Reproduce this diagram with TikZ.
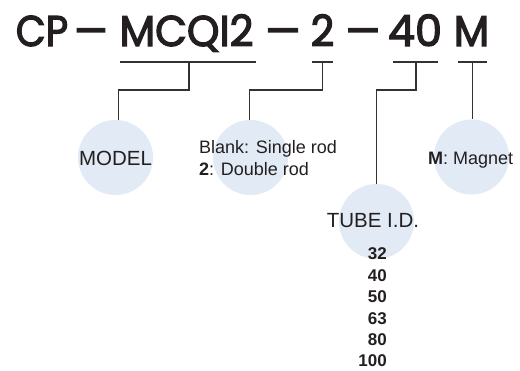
\documentclass[tikz,border=0pt]{standalone}
\usepackage{fontspec}
\setmainfont{Liberation Sans}
\newfontfamily\titlefont[FakeBold=3]{Poppins}
\definecolor{bubble}{RGB}{225,234,245}
\definecolor{ink}{RGB}{35,31,32}
\definecolor{wire}{RGB}{50,50,50}
\newcommand{\tsq}[2][0.92]{\scalebox{#1}[1]{#2}}
\tikzset{
  bub/.style={circle, fill=bubble, minimum size=75pt, inner sep=0pt},
  ttl/.style={anchor=base, inner sep=0pt, text=ink, font=\titlefont\fontsize{43}{43}\selectfont},
  lbl/.style={inner sep=0pt, text=ink, font=\fontsize{18}{22}\selectfont},
  big/.style={inner sep=0pt, text=ink, font=\fontsize{20.5}{24}\selectfont},
  num/.style={anchor=base east, inner sep=0pt, text=ink, font=\bfseries\fontsize{17}{20}\selectfont},
  wirel/.style={draw=wire, line width=1.2pt}
}
\begin{document}
\begin{tikzpicture}[x=1pt, y=-1pt]
\useasboundingbox (0,0) rectangle (520,370);
% title
\node[ttl] (tcp) at (42,46) {\tsq[0.9]{CP}};
\node[ttl] (td1) at (91,46) {\tsq[0.88]{—}};
\node[ttl] (tmod) at (186.5,46) {\tsq[0.96]{MCQI2}};
\node[ttl] (td2) at (283,46) {\tsq[0.92]{—}};
\node[ttl] (trod) at (322.5,46) {\tsq[0.95]{2}};
\node[ttl] (td3) at (363,46) {\tsq[0.9]{—}};
\node[ttl] (tbore) at (415,46) {\tsq[1.0]{40}};
\node[ttl] (tmag) at (471.5,46) {\tsq[0.95]{M}};
% bubbles
\node[bub] (c1) at (115.5,157.5) {};
\node[bub] (c2) at (250.5,157.5) {};
\node[bub] (c3) at (376.5,221.5) {};
\node[bub] (c4) at (471.5,157) {};
% bars and connectors
\coordinate (b1l) at (120,62); \coordinate (b1r) at (256,62); \coordinate (b1m) at (189,62); \coordinate (k1) at (189,90);
\coordinate (b2l) at (312,62); \coordinate (b2r) at (333,62); \coordinate (b2m) at (322.5,62); \coordinate (k2) at (322.5,90);
\coordinate (b3l) at (393,62); \coordinate (b3r) at (438,62); \coordinate (b3m) at (416,62); \coordinate (k3) at (416,90);
\coordinate (b4l) at (458,62); \coordinate (b4r) at (487,62); \coordinate (b4m) at (472.5,62);
\draw[wirel] (b1l) -- (b1r);
\draw[wirel] (b2l) -- (b2r);
\draw[wirel] (b3l) -- (b3r);
\draw[wirel] (b4l) -- (b4r);
\draw[wirel] (b1m) -- (k1) -| ([xshift=3pt]c1.north);
\draw[wirel] (b2m) -- (k2) -| ([xshift=-1pt]c2.north);
\draw[wirel] (b3m) -- (k3) -| (c3.north);
\draw[wirel] (b4m) -- ([xshift=1pt]c4.north);
% labels
\node[big] (lmodel) at (115.5,158) {MODEL};
\node[lbl, anchor=base west] (lblank) at (199,153) {Blank: Single rod};
\node[lbl, anchor=base west] (ldouble) at (199,175) {\textbf{2}: Double rod};
\node[lbl, anchor=base west] (lmagnet) at (428,164) {\textbf{M}: Magnet};
\node[big] (ltube) at (373,221) {TUBE I.D.};
\node[num] (n1) at (387,259.8) {32};
\node[num] (n2) at (387,281.2) {40};
\node[num] (n3) at (387,302.6) {50};
\node[num] (n4) at (387,324) {63};
\node[num] (n5) at (387,345.4) {80};
\node[num] (n6) at (387,366.8) {100};
\end{tikzpicture}
\end{document}
